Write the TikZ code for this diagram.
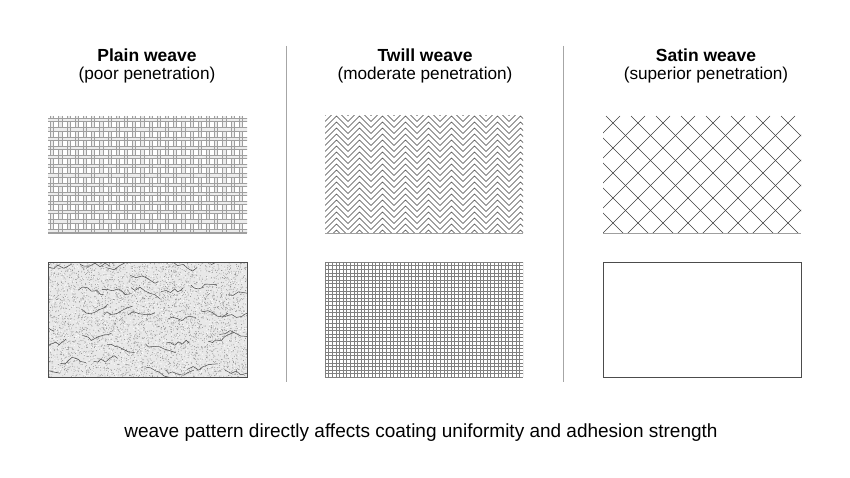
\documentclass[tikz,border=0pt]{standalone}
\usepackage{fontspec}
\setmainfont{Liberation Sans}

\begin{document}
\begin{tikzpicture}[x=1pt,y=-1pt, font=\fontsize{19}{22}\selectfont,
  head/.style={font=\fontsize{17.5}{20}\selectfont\bfseries},
  sub/.style={font=\fontsize{17.2}{20}\selectfont},
  thr/.style={gray!75, line width=0.5},
  sep/.style={gray!70, line width=0.8},
  frame/.style={black!70, line width=0.7}]

\useasboundingbox[fill=white] (0,0) rectangle (850,478);

% panel corners
\coordinate (a1) at (48,116);  \coordinate (a2) at (247,233);
\coordinate (a3) at (48,262);  \coordinate (a4) at (247,377);
\coordinate (b1) at (325,116); \coordinate (b2) at (523,233);
\coordinate (b3) at (325,262); \coordinate (b4) at (523,377);
\coordinate (c1) at (603,116); \coordinate (c2) at (801,233);
\coordinate (c3) at (603,262); \coordinate (c4) at (801,377);

% headings
\node[head] (plain) at (147,55) {Plain weave};
\node[sub] (plainsub) at (147,75) {(poor penetration)};
\node[head] (twill) at (425,55) {Twill weave};
\node[sub] (twillsub) at (425,75) {(moderate penetration)};
\node[head] (satin) at (706,55) {Satin weave};
\node[sub] (satinsub) at (706,75) {(superior penetration)};

% dividers
\draw[sep] (286,46) -- (286,382);
\draw[sep] (563,46) -- (563,382);

% plain weave
\begin{scope}
\clip (a1) rectangle (a2);
\foreach \x in {52,60.2,...,248} {
  \fill[gray!15] (\x-1.6,116) rectangle (\x+1.6,234);
  \draw[thr] (\x-1.6,116) -- (\x-1.6,234) (\x+1.6,116) -- (\x+1.6,234);
}
\foreach \y in {120,129.2,...,234} {
  \fill[gray!15] (48,\y-1.6) rectangle (248,\y+1.6);
  \draw[thr] (48,\y-1.6) -- (248,\y-1.6) (48,\y+1.6) -- (248,\y+1.6);
}
\foreach \x [count=\i] in {52,60.2,...,248}
  \foreach \y [count=\j] in {120,129.2,...,234} {
    \ifodd\numexpr\i+\j\relax
      \draw[thr] (\x-1.6,\y-1.6) -- (\x-1.6,\y+1.6) (\x+1.6,\y-1.6) -- (\x+1.6,\y+1.6);
    \fi
  }
\end{scope}
\draw[thr] (48,233.5) -- (247,233.5);

% plain weave coating
\pgfmathsetseed{11}
\begin{scope}
\clip (a3) rectangle (a4);
\fill[gray!18] (a3) rectangle (a4);
\foreach \i in {1,...,4200}
  \fill[black!50] (48+199*rnd, 262+115*rnd) circle (0.4);
\foreach \i in {1,...,1500}
  \fill[white] (48+199*rnd, 262+115*rnd) circle (0.5);
\foreach \r in {0,...,6}
  \foreach \q in {0,...,4}
    \draw[black!70, line width=0.5, line join=round]
      (40+\r*32+14*rand, 268+\q*24+8*rand) \foreach \s in {1,...,6} { -- ++(2.5+4*rnd, 4*rand) };
\end{scope}
\draw[frame] (a3) rectangle (a4);

% twill weave
\begin{scope}
\clip (b1) rectangle (b2);
\foreach \i in {0,...,8}
  \foreach \k in {-2,...,19}
    \draw[black!75, line width=0.5]
      (325+\i*23,116+\k*6+11.5) -- (336.5+\i*23,116+\k*6) -- (348+\i*23,116+\k*6+11.5);
\end{scope}
\draw[thr] (325,233.5) -- (523,233.5);

% twill coating
\begin{scope}
\clip (b3) rectangle (b4);
\foreach \x in {325,328.6,...,525}
  \draw[black!50, line width=0.5] (\x,262) -- (\x,377);
\foreach \y in {262,265.6,...,378}
  \draw[black!50, line width=0.5] (325,\y) -- (523,\y);
\end{scope}

% satin weave
\begin{scope}
\clip (c1) rectangle (c2);
\foreach \c in {-147,-122,...,203}
  \draw[black!75, line width=0.6] (603+\c,116) -- ++(150,150);
\foreach \c in {-8,17,...,342}
  \draw[black!75, line width=0.6] (603+\c,116) -- ++(-150,150);
\end{scope}
\draw[thr] (603,233.5) -- (801,233.5);

% satin coating
\draw[frame] (c3) rectangle (c4);

\node (note) at (421,433) {weave pattern directly affects coating uniformity and adhesion strength};

\end{tikzpicture}
\end{document}
